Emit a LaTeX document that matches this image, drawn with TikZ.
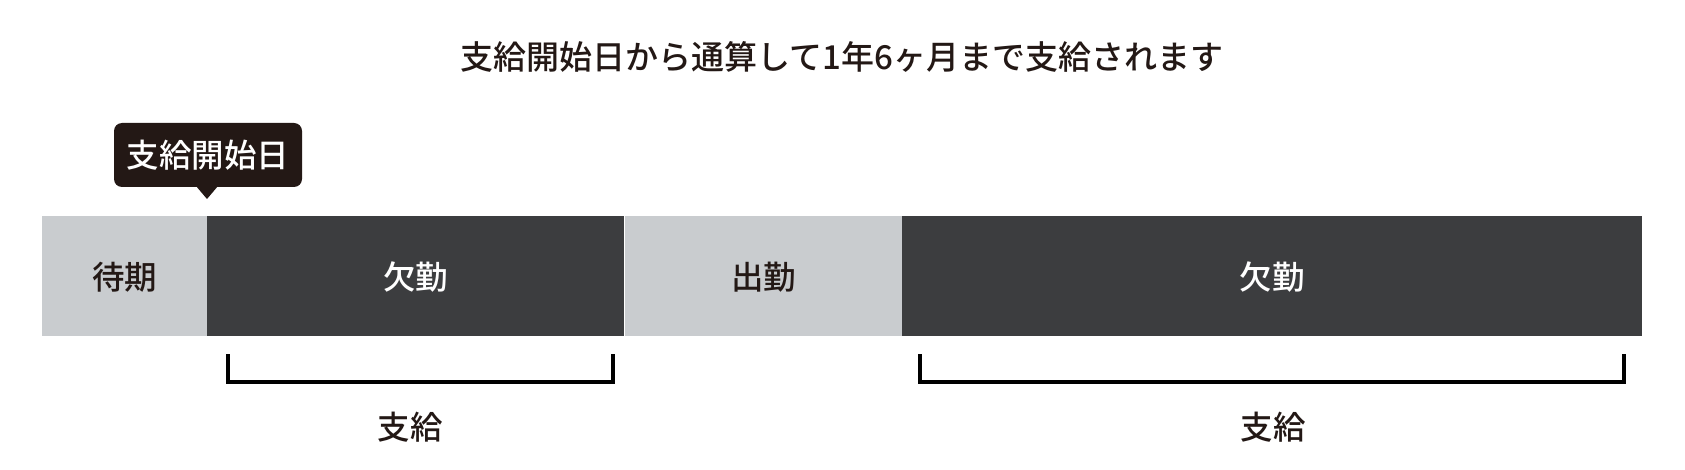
\documentclass[tikz,border=0pt]{standalone}
\usepackage{fontspec}
\setmainfont{Noto Sans CJK JP}[UprightFont=* Medium]
\definecolor{ink}{HTML}{231815}
\definecolor{darkbar}{HTML}{3C3D3F}
\definecolor{lightbar}{HTML}{C9CCCF}
\tikzset{
  seg/.style={anchor=north west, inner sep=0pt, outer sep=0pt, minimum height=120pt},
  lightseg/.style={seg, fill=lightbar, text=ink},
  darkseg/.style={seg, fill=darkbar, text=white},
  lbl/.style={font=\fontsize{32.5}{38}\selectfont, inner sep=0pt},
  brk/.style={draw=black, line width=3.2pt},
}
\begin{document}
\begin{tikzpicture}[x=1pt, y=-1pt]
\useasboundingbox (0,0) rectangle (1685,470);
\fill[white] (0,0) rectangle (1685,470);
% title
\node[lbl, text=ink, font=\fontsize{33}{38}\selectfont] (title) at (842,57) {支給開始日から通算して1年6ヶ月まで支給されます};
% bar segments
\node[lightseg, minimum width=165pt] (wait) at (42,216) {};
\node[darkseg, minimum width=417pt] (abs1) at (207,216) {};
\node[lightseg, minimum width=277pt] (work) at (625,216) {};
\node[darkseg, minimum width=740pt] (abs2) at (902,216) {};
\node[lbl, text=ink] (twait) at ([yshift=-1pt]wait.center) {待期};
\node[lbl, text=white] (tabs1) at ([yshift=-1pt]abs1.center) {欠勤};
\node[lbl, text=ink] (twork) at ([yshift=-1pt]work.center) {出勤};
\node[lbl, text=white] (tabs2) at ([yshift=-1pt]abs2.center) {欠勤};
% bubble
\node[fill=ink, rounded corners=8pt, minimum width=188pt, minimum height=64pt, inner sep=0pt, text=white, font=\fontsize{32.5}{38}\selectfont] (bubble) at (208,155) {支給開始日};
\coordinate (tip) at (207,199);
\fill[ink] ([xshift=-10pt]bubble.south -| tip) -- (tip) -- ([xshift=10pt]bubble.south -| tip) -- cycle;
% brackets
\coordinate (b1a) at (228,354);
\coordinate (b1b) at (613,354);
\coordinate (b2a) at (920,354);
\coordinate (b2b) at (1624,354);
\draw[brk] (b1a) -- ++(0,28) -| (b1b);
\draw[brk] (b2a) -- ++(0,28) -| (b2b);
\node[lbl, text=ink] (pay1) at (410,427) {支給};
\node[lbl, text=ink] (pay2) at (1273,427) {支給};
\end{tikzpicture}
\end{document}
